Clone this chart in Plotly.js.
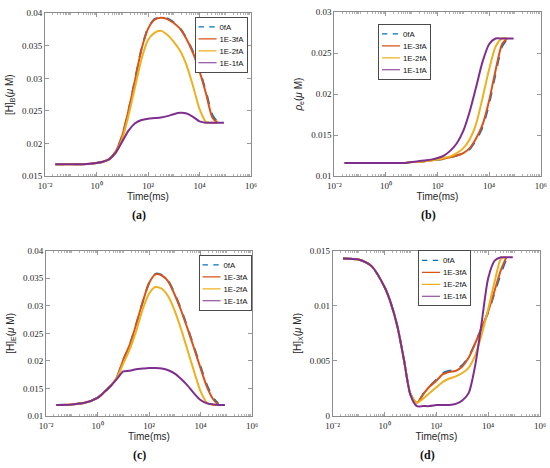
<!DOCTYPE html>
<html>
<head>
<meta charset="utf-8">
<script src="https://cdn.plot.ly/plotly-3.0.1.min.js"></script>
<style>
html,body{margin:0;padding:0;background:#fff;}
#chart{width:550px;height:468px;}
</style>
</head>
<body>
<div id="chart"></div>
<script>
// ---------------- data ----------------
const seriesNames = ["0fA", "1E-3fA", "1E-2fA", "1E-1fA"];

// time in ms
const timeMs = [0.025, 0.1, 0.316, 1, 1.78, 3.16, 5.62, 10, 17.8, 31.6, 56.2, 100, 178, 316, 562,
                1000, 1780, 3160, 5620, 10000, 17800, 31600, 50000];
const timeMsLong = [0.025, 0.1, 0.316, 1, 1.78, 3.16, 5.62, 10, 17.8, 31.6, 56.2, 100, 178, 316, 562,
                1000, 1780, 3160, 5620, 10000, 17800, 31600, 50000, 89000];

// (a) [H]_B
const hB_0fA  = [0.0168,0.0168,0.0168,0.0170,0.0172,0.0176,0.0188,0.0212,0.0252,0.0299,0.0346,0.0377,0.0391,0.0394,0.0392,0.0386,0.0377,0.0361,0.0341,0.0313,0.0280,0.0244,0.0233];
const hB_1e3  = [0.0168,0.0168,0.0168,0.0170,0.0172,0.0176,0.0188,0.0212,0.0252,0.0298,0.0345,0.0376,0.0390,0.0393,0.0391,0.0385,0.0376,0.0360,0.0339,0.0311,0.0277,0.0240,0.0232];
const hB_1e2  = [0.0168,0.0168,0.0168,0.0170,0.0172,0.0176,0.0186,0.0207,0.0244,0.0287,0.0330,0.0359,0.0370,0.0373,0.0367,0.0356,0.0342,0.0320,0.0288,0.0253,0.0233,0.0232,0.0232];
const hB_1e1  = [0.0168,0.0168,0.0168,0.0170,0.0172,0.0176,0.0186,0.0203,0.0220,0.0231,0.0236,0.0238,0.0239,0.0240,0.0242,0.0245,0.0247,0.0246,0.0241,0.0234,0.0232,0.0232,0.0232,0.0232];

// (b) rho_e
const rho_0fA = [0.0116,0.0116,0.0116,0.0116,0.0116,0.0116,0.0116,0.0117,0.0117,0.0118,0.0119,0.0120,0.0121,0.0123,0.0125,0.0128,0.0133,0.0144,0.0160,0.0188,0.0225,0.0258,0.0267];
const rho_1e3 = [0.0116,0.0116,0.0116,0.0116,0.0116,0.0116,0.0116,0.0117,0.0117,0.0118,0.0119,0.0120,0.0121,0.0123,0.0125,0.0128,0.0134,0.0146,0.0163,0.0192,0.0229,0.0261,0.0268];
const rho_1e2 = [0.0116,0.0116,0.0116,0.0116,0.0116,0.0116,0.0116,0.0117,0.0117,0.0118,0.0119,0.0120,0.0122,0.0124,0.0128,0.0134,0.0145,0.0164,0.0196,0.0230,0.0258,0.0268,0.0268];
const rho_1e1 = [0.0116,0.0116,0.0116,0.0116,0.0116,0.0116,0.0116,0.0117,0.0118,0.0119,0.0120,0.0122,0.0125,0.0131,0.0140,0.0155,0.0179,0.0209,0.0240,0.0261,0.0268,0.0268,0.0268,0.0268];

// (c) [H]_E
const hE_0fA  = [0.0120,0.0121,0.0124,0.0133,0.0143,0.0154,0.0170,0.0202,0.0229,0.0266,0.0306,0.0341,0.0358,0.0356,0.0345,0.0322,0.0293,0.0260,0.0225,0.0190,0.0156,0.0133,0.0122];
const hE_1e3  = [0.0120,0.0121,0.0124,0.0133,0.0143,0.0154,0.0170,0.0202,0.0229,0.0266,0.0306,0.0341,0.0357,0.0355,0.0344,0.0320,0.0291,0.0258,0.0223,0.0187,0.0153,0.0130,0.0120];
const hE_1e2  = [0.0120,0.0121,0.0124,0.0133,0.0143,0.0154,0.0169,0.0195,0.0221,0.0254,0.0293,0.0322,0.0334,0.0331,0.0317,0.0291,0.0257,0.0219,0.0181,0.0145,0.0124,0.0120,0.0120];
const hE_1e1  = [0.0120,0.0121,0.0124,0.0133,0.0143,0.0154,0.0167,0.0181,0.0182,0.0185,0.0186,0.0187,0.0187,0.0186,0.0183,0.0177,0.0167,0.0155,0.0141,0.0129,0.0123,0.0121,0.0120,0.0120];

// (d) [H]_X
const hX_0fA  = [0.0143,0.0142,0.0136,0.0117,0.0102,0.0081,0.0051,0.0020,0.0012,0.0020,0.0027,0.0033,0.0039,0.0041,0.0042,0.0046,0.0054,0.0066,0.0080,0.0094,0.0112,0.0130,0.0142];
const hX_1e3  = [0.0143,0.0142,0.0136,0.0117,0.0102,0.0081,0.0051,0.0020,0.0012,0.0020,0.0027,0.0032,0.0038,0.0040,0.0041,0.0045,0.0053,0.0066,0.0080,0.0095,0.0114,0.0133,0.0144];
const hX_1e2  = [0.0143,0.0142,0.0136,0.0117,0.0102,0.0081,0.0051,0.0020,0.0012,0.0016,0.0021,0.0026,0.0031,0.0034,0.0036,0.0039,0.0044,0.0055,0.0074,0.0097,0.0122,0.0143,0.0144];
const hX_1e1  = [0.0143,0.0142,0.0136,0.0117,0.0102,0.0081,0.0051,0.0019,0.0009,0.0009,0.0009,0.0010,0.0010,0.0010,0.0011,0.0014,0.0021,0.0046,0.0085,0.0125,0.0141,0.0144,0.0144,0.0144];

// axis tick labels
const xTickVals = [0.01, 1, 100, 10000, 1000000];
const xTickText = ["10\u207B\u00B2", "10\u2070", "10\u00B2", "10\u2074", "10\u2076"];
const yTitles = ["[H]<sub>B</sub>(<i>μ</i> M)", "<i>ρ</i><sub>e</sub>(<i>μ</i> M)", "[H]<sub>E</sub>(<i>μ</i> M)", "[H]<sub>X</sub>(<i>μ</i> M)"];
const captions = ["(a)", "(b)", "(c)", "(d)"];

// ---------------- styling ----------------
const colors = ["#0072BD", "#D95319", "#EDB120", "#7E2F8E"];
const dashes = ["dash", "solid", "solid", "solid"];

const panels = [
  {vals:[hB_0fA,hB_1e3,hB_1e2,hB_1e1], yr:[0.015,0.04], xd:[45,251], yd:[13.3,176]},
  {vals:[rho_0fA,rho_1e3,rho_1e2,rho_1e1], yr:[0.01,0.03], xd:[334.3,540.7], yd:[12.3,176]},
  {vals:[hE_0fA,hE_1e3,hE_1e2,hE_1e1], yr:[0.01,0.04], xd:[46,252], yd:[250.7,416]},
  {vals:[hX_0fA,hX_1e3,hX_1e2,hX_1e1], yr:[0,0.015], xd:[332.7,540], yd:[250.7,416]}
];

const W = 550, H = 468;
const minorVals = [];
for (let k = -2; k < 6; k++) {
  for (let m = 1; m <= 9; m++) {
    if (m === 1 && k % 2 === 0) continue;
    minorVals.push(m * Math.pow(10, k));
  }
}

const axisColor = "#7f7f7f";
const traces = [];
const layout = {
  width: W, height: H,
  margin: {l:0, r:0, t:0, b:0},
  paper_bgcolor: "#fff", plot_bgcolor: "#fff",
  showlegend: true,
  annotations: []
};

panels.forEach((p, i) => {
  const n = i === 0 ? "" : String(i + 1);
  const xa = "x" + n, ya = "y" + n;
  const leg = "legend" + n;
  p.vals.forEach((v, j) => {
    traces.push({
      x: j === 3 ? timeMsLong : timeMs,
      y: v,
      type: "scatter", mode: "lines",
      name: seriesNames[j],
      xaxis: xa, yaxis: ya,
      legend: leg,
      line: {color: colors[j], width: 2, dash: dashes[j], shape: "spline", smoothing: 0.7},
      hoverinfo: "skip"
    });
  });
  layout["xaxis" + n] = {
    type: "log", range: [-2, 6], anchor: ya,
    domain: [p.xd[0] / W, p.xd[1] / W],
    tickmode: "array", tickvals: xTickVals, ticktext: xTickText,
    ticks: "inside", ticklen: 4, tickcolor: axisColor, tickwidth: 0.8,
    ticklabelstandoff: 1,
    minor: {ticks: "inside", ticklen: 2, tickvals: minorVals, tickcolor: axisColor, tickwidth: 0.6, showgrid: false},
    showline: true, linecolor: axisColor, linewidth: 0.9, mirror: "ticks",
    showgrid: false, zeroline: false,
    tickfont: {family: "Liberation Serif", size: 9, color: "#262626"},
    title: {text: "Time(ms)", font: {family: "Liberation Sans", size: 10, color: "#262626"}, standoff: 3}
  };
  layout["yaxis" + n] = {
    range: p.yr, anchor: xa,
    domain: [1 - p.yd[1] / H, 1 - p.yd[0] / H],
    dtick: 0.005, tick0: 0,
    ticks: "inside", ticklen: 4, tickcolor: axisColor, tickwidth: 0.8,
    showline: true, linecolor: axisColor, linewidth: 0.9, mirror: "ticks",
    showgrid: false, zeroline: false,
    tickfont: {family: "Liberation Serif", size: 9, color: "#262626"},
    title: {text: yTitles[i], font: {family: "Liberation Sans", size: 10, color: "#262626"}, standoff: 6}
  };
  layout[leg] = {
    bgcolor: "#ffffff", bordercolor: "#444444", borderwidth: 1.6,
    font: {family: "Liberation Sans", size: 13, color: "#111111"},
    itemwidth: 30, x: 0, y: 1
  };
  layout.annotations.push({
    xref: "paper", yref: "paper",
    x: ((p.xd[0] + p.xd[1]) / 2 - 9) / W,
    y: 1 - (p.yd[1] + 39) / H,
    text: "<b>" + captions[i] + "</b>",
    showarrow: false, xanchor: "center", yanchor: "middle",
    font: {family: "Liberation Serif", size: 12, color: "#111111"}
  });
});

// legend placement (pixel boxes of the reference legends)
const legendPlace = {
  legend:  {right: 247, top: 17},
  legend2: {left: 378, top: 24},
  legend3: {right: 251, top: 255},
  legend4: {left: 418, top: 250.5}
};
const legendScale = 0.6;

Plotly.newPlot("chart", traces, layout, {staticPlot: true, displayModeBar: false}).then(gd => {
  Object.keys(legendPlace).forEach(id => {
    const g = gd.querySelector("g." + id);
    if (!g) return;
    const bg = g.querySelector("rect.bg");
    const w = bg ? parseFloat(bg.getAttribute("width")) : 90;
    const pl = legendPlace[id];
    const left = pl.left !== undefined ? pl.left : pl.right - w * legendScale;
    g.setAttribute("transform", "translate(" + left + "," + pl.top + ") scale(" + legendScale + ")");
  });
});
</script>
</body>
</html>
